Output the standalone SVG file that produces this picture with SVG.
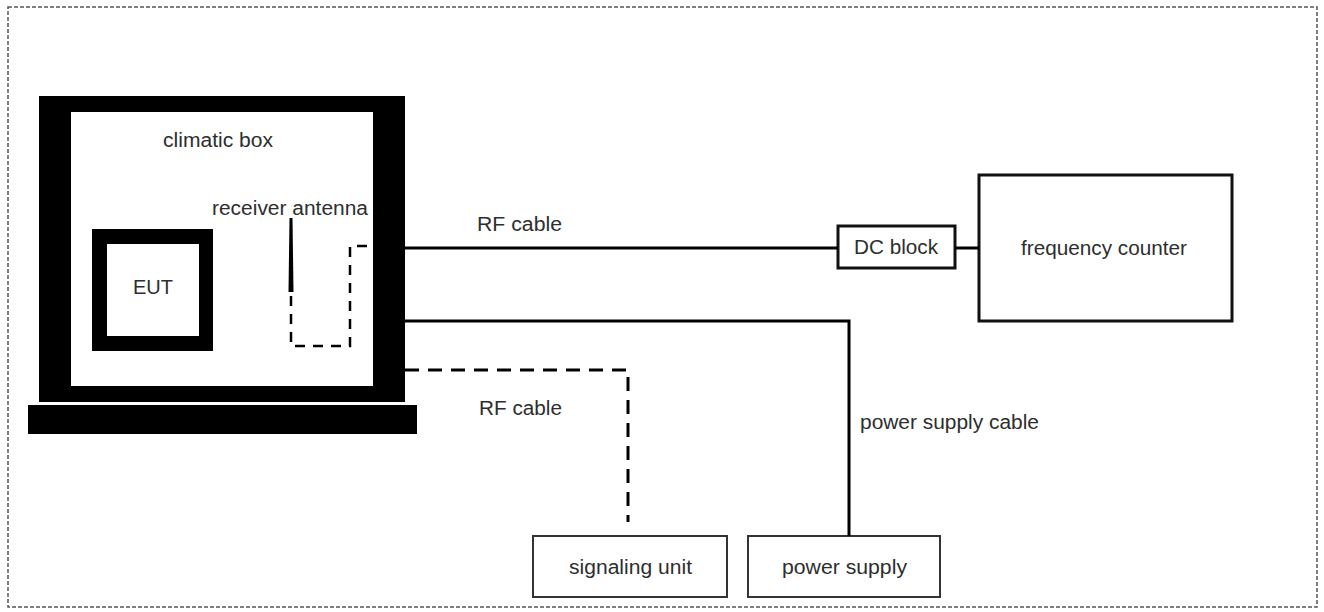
<svg xmlns="http://www.w3.org/2000/svg" width="1324" height="612" viewBox="0 0 1324 612">
<style>
text{font-family:"Liberation Sans",Arial,sans-serif;font-size:19.5px;fill:#2e2e2e}
.box{fill:#fff;stroke:#111;stroke-width:3}
.box2{fill:#fff;stroke:#333;stroke-width:2}
.ln{fill:none;stroke:#000;stroke-width:3}
.dash{fill:none;stroke:#000;stroke-width:3;stroke-dasharray:14 9}
.dash2{fill:none;stroke:#000;stroke-width:2.5;stroke-dasharray:10 8}
</style>
<rect x="0" y="0" width="1324" height="612" fill="#fff"/>
<rect id="frame" x="8" y="7" width="1309" height="600" fill="none" stroke="#555" stroke-width="1.5" stroke-dasharray="4 2"/>
<g id="climatic-box">
<rect x="39" y="96" width="366" height="306" fill="#000"/>
<rect x="71" y="112" width="302" height="274" fill="#fff"/>
<rect x="28" y="405" width="389" height="29" fill="#000"/>
<text x="163" y="147" textLength="110" lengthAdjust="spacingAndGlyphs">climatic box</text>
</g>
<g id="eut">
<rect x="92" y="229" width="121" height="122" fill="#000"/>
<rect x="107" y="244" width="92" height="92" fill="#fff"/>
<text x="133" y="294" textLength="40" lengthAdjust="spacingAndGlyphs">EUT</text>
</g>
<g id="antenna">
<text x="212" y="215" textLength="156" lengthAdjust="spacingAndGlyphs">receiver  antenna</text>
<polygon points="289.5,218 292.5,218 293.5,292 288.5,292" fill="#000"/>
<path class="dash2" d="M291,296 V346 H350 V246 H373"/>
</g>
<g id="dc-block">
<rect class="box" x="838" y="226" width="117" height="42"/>
<text x="854" y="254" textLength="84" lengthAdjust="spacingAndGlyphs">DC block</text>
</g>
<g id="frequency-counter">
<rect class="box" x="979" y="175" width="253" height="146"/>
<text x="1021" y="255" textLength="166" lengthAdjust="spacingAndGlyphs">frequency  counter</text>
</g>
<g id="signaling-unit">
<rect class="box2" x="533" y="536" width="194" height="61"/>
<text x="569" y="574" textLength="123" lengthAdjust="spacingAndGlyphs">signaling unit</text>
</g>
<g id="power-supply">
<rect class="box2" x="748" y="536" width="192" height="61"/>
<text x="782" y="574" textLength="125" lengthAdjust="spacingAndGlyphs">power  supply</text>
</g>
<g id="connectors">
<path class="ln" d="M405,248 H838"/>
<path class="ln" d="M955,248 H979"/>
<path class="ln" d="M405,321 H849 V536"/>
<path class="dash" d="M405,370 H628 V522"/>
<text x="477" y="231" textLength="85" lengthAdjust="spacingAndGlyphs">RF cable</text>
<text x="479" y="415" textLength="83" lengthAdjust="spacingAndGlyphs">RF cable</text>
<text x="860" y="429" textLength="179" lengthAdjust="spacingAndGlyphs">power  supply cable</text>
</g>
</svg>
